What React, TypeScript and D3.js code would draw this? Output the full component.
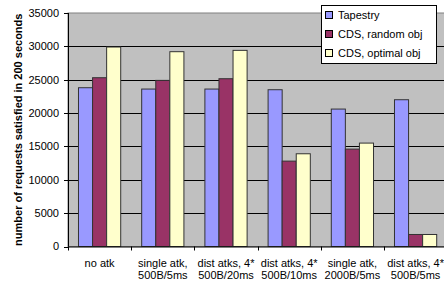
import React from 'react';
import * as d3 from 'd3';

const categories = [
  ['no atk'],
  ['single atk,', '500B/5ms'],
  ['dist atks, 4*', '500B/20ms'],
  ['dist atks, 4*', '500B/10ms'],
  ['single atk,', '2000B/5ms'],
  ['dist atks, 4*', '500B/5ms'],
];
const seriesNames = ['Tapestry', 'CDS, random obj', 'CDS, optimal obj'];
const tapestry = [23800, 23600, 23600, 23500, 20600, 22000];
const cdsRandom = [25300, 24900, 25150, 12800, 14600, 1800];
const cdsOptimal = [29900, 29200, 29400, 13900, 15500, 1800];
const yTicks = [0, 5000, 10000, 15000, 20000, 25000, 30000, 35000];

const colors = ['#9999FF', '#993366', '#FFFFCC'];
const font = 'Arial, "Liberation Sans", sans-serif';

export default function App() {
  const width = 444;
  const height = 285;
  const left = 68;
  const top = 13;
  const bottom = 246.5;
  const bandW = 63.2;

  const seriesVals = [tapestry, cdsRandom, cdsOptimal];

  const x = d3.scaleBand<number>()
    .domain(d3.range(categories.length))
    .range([left, left + bandW * categories.length])
    .padding(0);

  const pad = bandW * 0.166;
  const x1 = d3.scaleBand<number>()
    .domain(d3.range(seriesNames.length))
    .range([pad, x.bandwidth() - pad])
    .padding(0);

  const y = d3.scaleLinear().domain([0, 35000]).range([bottom, top]);
  const right = left + bandW * categories.length;

  return (
    <svg
      width={width}
      height={height}
      style={{ position: 'absolute', left: 0, top: 0, display: 'block', background: '#fff' }}
      fontFamily={font}
    >
      {/* plot area */}
      <rect x={left} y={top} width={right - left} height={bottom - top} fill="#C0C0C0" stroke="#808080" />

      {/* grid lines */}
      {yTicks.filter(t => t > 0 && t < 35000).map(t => (
        <line key={t} x1={left} x2={right} y1={Math.round(y(t)) + 0.5} y2={Math.round(y(t)) + 0.5} stroke="#000" />
      ))}

      {/* bars */}
      {categories.map((_, i) => (
        <g key={i} transform={`translate(${x(i)},0)`}>
          {seriesVals.map((vals, s) => (
            <rect
              key={s}
              x={x1(s)}
              y={y(vals[i])}
              width={x1.bandwidth()}
              height={bottom - y(vals[i])}
              fill={colors[s]}
              stroke="#333"
              strokeWidth={1}
            />
          ))}
        </g>
      ))}

      {/* y axis */}
      <line x1={left + 0.5} x2={left + 0.5} y1={top} y2={bottom} stroke="#000" />
      {yTicks.map(t => (
        <g key={t}>
          <line x1={left - 4} x2={left} y1={Math.round(y(t)) + 0.5} y2={Math.round(y(t)) + 0.5} stroke="#000" />
          <text x={59} y={y(t)} dy="0.35em" textAnchor="end" fontSize={11} fill="#000">{t}</text>
        </g>
      ))}

      {/* x axis */}
      <line x1={left} x2={right} y1={bottom + 0.5} y2={bottom + 0.5} stroke="#000" />
      {categories.map((_, i) => (
        <line key={i} x1={Math.round(x(i)!) + 0.5} x2={Math.round(x(i)!) + 0.5} y1={bottom} y2={bottom + 4} stroke="#000" />
      ))}
      {categories.map((lines, i) => (
        <text key={i} x={x(i)! + x.bandwidth() / 2} y={267} textAnchor="middle" fontSize={11} fill="#000">
          {lines.map((l, k) => (
            <tspan key={k} x={x(i)! + x.bandwidth() / 2} dy={k === 0 ? 0 : 12}>{l}</tspan>
          ))}
        </text>
      ))}

      {/* y label */}
      <text
        transform={`translate(18,${(top + bottom) / 2}) rotate(-90)`}
        textAnchor="middle"
        dy="0.35em"
        fontSize={11}
        fontWeight="bold"
        fill="#000"
      >
        number of requests satisfied in 200 seconds
      </text>

      {/* legend */}
      <rect x={321.5} y={5.5} width={115} height={58} fill="#fff" stroke="#000" />
      {seriesNames.map((name, s) => (
        <g key={name} transform={`translate(0,${15 + s * 19})`}>
          <rect x={325.5} y={-3.5} width={7} height={7} fill={colors[s]} stroke="#000" />
          <text x={338} y={0} dy="0.35em" fontSize={11} fill="#000">{name}</text>
        </g>
      ))}
    </svg>
  );
}
